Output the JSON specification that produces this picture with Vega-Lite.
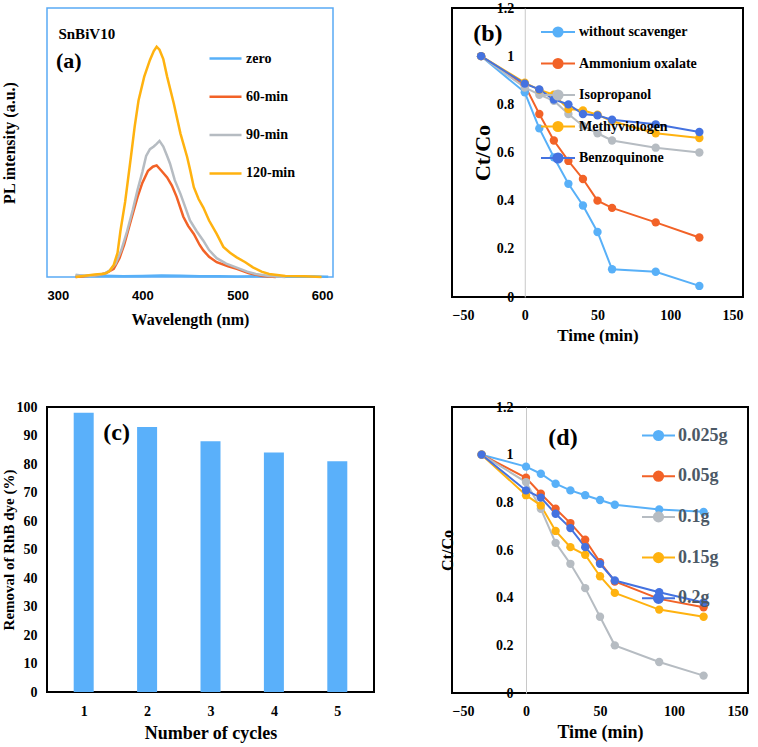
{
  "$schema": "https://vega.github.io/schema/vega-lite/v6.json",
  "background": "white",
  "padding": {"left": 0, "top": 0, "right": 0, "bottom": 0},
  "bounds": "flush",
  "columns": 2,
  "spacing": {"row": 110, "column": 78},
  "resolve": {"scale": {"color": "independent"}, "legend": {"color": "independent"}},
  "config": {
    "font": "Liberation Serif",
    "view": {"stroke": "black", "strokeWidth": 2},
    "axis": {"labelFont": "Liberation Serif", "labelFontWeight": "bold", "labelColor": "black", "titleFont": "Liberation Serif", "titleFontWeight": "bold", "titleColor": "black", "grid": false, "ticks": false, "domain": false, "labelOverlap": false},
    "legend": {"labelFont": "Liberation Serif", "labelFontWeight": "bold", "labelColor": "black", "padding": 0, "title": null}
  },
  "concat": [
    {
      "width": 286,
      "height": 269,
      "view": {"stroke": "#5aaaf5", "strokeWidth": 1.5},
      "layer": [
        {
          "data": {"values": [
            {"wl": 330, "pl": 0.6, "series_a": "zero"}, {"wl": 345, "pl": 0.4, "series_a": "zero"}, {"wl": 360, "pl": 0.5, "series_a": "zero"}, {"wl": 380, "pl": 0.3, "series_a": "zero"}, {"wl": 400, "pl": 0.4, "series_a": "zero"}, {"wl": 420, "pl": 0.6, "series_a": "zero"}, {"wl": 440, "pl": 0.5, "series_a": "zero"}, {"wl": 460, "pl": 0.3, "series_a": "zero"}, {"wl": 480, "pl": 0.3, "series_a": "zero"}, {"wl": 500, "pl": 0.2, "series_a": "zero"}, {"wl": 520, "pl": 0.3, "series_a": "zero"}, {"wl": 540, "pl": 0.2, "series_a": "zero"}, {"wl": 560, "pl": 0.2, "series_a": "zero"}, {"wl": 580, "pl": 0.2, "series_a": "zero"}, {"wl": 595, "pl": 0.1, "series_a": "zero"},
            {"wl": 330, "pl": 0, "series_a": "60-min"}, {"wl": 345, "pl": 0.5, "series_a": "60-min"}, {"wl": 355, "pl": 0.8, "series_a": "60-min"}, {"wl": 362, "pl": 1.5, "series_a": "60-min"}, {"wl": 370, "pl": 3, "series_a": "60-min"}, {"wl": 376, "pl": 7, "series_a": "60-min"}, {"wl": 381, "pl": 12, "series_a": "60-min"}, {"wl": 388, "pl": 21, "series_a": "60-min"}, {"wl": 395, "pl": 29.8, "series_a": "60-min"}, {"wl": 400, "pl": 35, "series_a": "60-min"}, {"wl": 406, "pl": 39.5, "series_a": "60-min"}, {"wl": 411, "pl": 41, "series_a": "60-min"}, {"wl": 415, "pl": 41.5, "series_a": "60-min"}, {"wl": 420, "pl": 39.5, "series_a": "60-min"}, {"wl": 426, "pl": 37, "series_a": "60-min"}, {"wl": 431, "pl": 34, "series_a": "60-min"}, {"wl": 436, "pl": 29.8, "series_a": "60-min"}, {"wl": 443, "pl": 22.4, "series_a": "60-min"}, {"wl": 448, "pl": 19, "series_a": "60-min"}, {"wl": 454, "pl": 16, "series_a": "60-min"}, {"wl": 460, "pl": 12, "series_a": "60-min"}, {"wl": 464, "pl": 9.9, "series_a": "60-min"}, {"wl": 470, "pl": 7.5, "series_a": "60-min"}, {"wl": 478, "pl": 5.5, "series_a": "60-min"}, {"wl": 490, "pl": 4, "series_a": "60-min"}, {"wl": 499, "pl": 3, "series_a": "60-min"}, {"wl": 512, "pl": 1.4, "series_a": "60-min"}, {"wl": 526, "pl": 0.4, "series_a": "60-min"}, {"wl": 540, "pl": 0, "series_a": "60-min"},
            {"wl": 330, "pl": 0.8, "series_a": "90-min"}, {"wl": 340, "pl": 0.4, "series_a": "90-min"}, {"wl": 350, "pl": 0.6, "series_a": "90-min"}, {"wl": 360, "pl": 1.2, "series_a": "90-min"}, {"wl": 366, "pl": 2.5, "series_a": "90-min"}, {"wl": 372, "pl": 5, "series_a": "90-min"}, {"wl": 378, "pl": 10, "series_a": "90-min"}, {"wl": 384, "pl": 17, "series_a": "90-min"}, {"wl": 390, "pl": 25, "series_a": "90-min"}, {"wl": 395, "pl": 32.4, "series_a": "90-min"}, {"wl": 400, "pl": 39, "series_a": "90-min"}, {"wl": 404, "pl": 45, "series_a": "90-min"}, {"wl": 408, "pl": 47.5, "series_a": "90-min"}, {"wl": 412, "pl": 48.5, "series_a": "90-min"}, {"wl": 415, "pl": 49.5, "series_a": "90-min"}, {"wl": 418, "pl": 50.6, "series_a": "90-min"}, {"wl": 422, "pl": 48.5, "series_a": "90-min"}, {"wl": 426, "pl": 45, "series_a": "90-min"}, {"wl": 429, "pl": 42.2, "series_a": "90-min"}, {"wl": 434, "pl": 36, "series_a": "90-min"}, {"wl": 440, "pl": 30.9, "series_a": "90-min"}, {"wl": 445, "pl": 26, "series_a": "90-min"}, {"wl": 450, "pl": 21, "series_a": "90-min"}, {"wl": 457, "pl": 17, "series_a": "90-min"}, {"wl": 464, "pl": 13.5, "series_a": "90-min"}, {"wl": 470, "pl": 10, "series_a": "90-min"}, {"wl": 478, "pl": 7, "series_a": "90-min"}, {"wl": 488, "pl": 5, "series_a": "90-min"}, {"wl": 499, "pl": 3.5, "series_a": "90-min"}, {"wl": 510, "pl": 2, "series_a": "90-min"}, {"wl": 519, "pl": 1.1, "series_a": "90-min"}, {"wl": 533, "pl": 0.4, "series_a": "90-min"}, {"wl": 550, "pl": 0, "series_a": "90-min"},
            {"wl": 330, "pl": 0, "series_a": "120-min"}, {"wl": 340, "pl": 0.5, "series_a": "120-min"}, {"wl": 350, "pl": 0.9, "series_a": "120-min"}, {"wl": 360, "pl": 1.2, "series_a": "120-min"}, {"wl": 365, "pl": 2, "series_a": "120-min"}, {"wl": 370, "pl": 4.5, "series_a": "120-min"}, {"wl": 374, "pl": 9, "series_a": "120-min"}, {"wl": 377, "pl": 17, "series_a": "120-min"}, {"wl": 382, "pl": 28, "series_a": "120-min"}, {"wl": 388, "pl": 44.6, "series_a": "120-min"}, {"wl": 392, "pl": 56, "series_a": "120-min"}, {"wl": 396, "pl": 65.6, "series_a": "120-min"}, {"wl": 402, "pl": 74.5, "series_a": "120-min"}, {"wl": 408, "pl": 80.7, "series_a": "120-min"}, {"wl": 412, "pl": 84, "series_a": "120-min"}, {"wl": 415, "pl": 85.6, "series_a": "120-min"}, {"wl": 418, "pl": 84.5, "series_a": "120-min"}, {"wl": 422, "pl": 81, "series_a": "120-min"}, {"wl": 426, "pl": 74.5, "series_a": "120-min"}, {"wl": 433, "pl": 64.5, "series_a": "120-min"}, {"wl": 440, "pl": 53.3, "series_a": "120-min"}, {"wl": 447, "pl": 44.6, "series_a": "120-min"}, {"wl": 450, "pl": 40, "series_a": "120-min"}, {"wl": 454, "pl": 33.4, "series_a": "120-min"}, {"wl": 459, "pl": 29, "series_a": "120-min"}, {"wl": 464, "pl": 25.8, "series_a": "120-min"}, {"wl": 470, "pl": 21, "series_a": "120-min"}, {"wl": 478, "pl": 16, "series_a": "120-min"}, {"wl": 485, "pl": 11.2, "series_a": "120-min"}, {"wl": 492, "pl": 9, "series_a": "120-min"}, {"wl": 499, "pl": 7.3, "series_a": "120-min"}, {"wl": 508, "pl": 5.5, "series_a": "120-min"}, {"wl": 516, "pl": 3.6, "series_a": "120-min"}, {"wl": 525, "pl": 2, "series_a": "120-min"}, {"wl": 533, "pl": 1.1, "series_a": "120-min"}, {"wl": 550, "pl": 0.4, "series_a": "120-min"}, {"wl": 570, "pl": 0.3, "series_a": "120-min"}, {"wl": 588, "pl": 0, "series_a": "120-min"}
          ]},
          "mark": {"type": "line", "strokeWidth": 2.5},
          "encoding": {
            "x": {"field": "wl", "type": "quantitative", "scale": {"domain": [300, 600], "nice": false, "zero": false},
                  "axis": {"values": [300, 400, 500, 600], "format": "d", "labelOverlap": false, "labelFont": "Liberation Sans", "labelFontSize": 13, "labelPadding": 12, "title": "Wavelength (nm)", "titleFont": "Liberation Serif", "titleFontSize": 16, "titlePadding": 9}},
            "y": {"field": "pl", "type": "quantitative", "scale": {"domain": [0, 100], "nice": false},
                  "axis": {"labels": false, "title": "PL intensity (a.u.)", "titleFont": "Liberation Serif", "titleFontSize": 16, "titlePadding": 30}},
            "color": {"field": "series_a", "type": "nominal",
                      "scale": {"domain": ["zero", "60-min", "90-min", "120-min"], "range": ["#58b0f8", "#f26227", "#b6bcc2", "#ffb20f"]},
                      "legend": {"orient": "none", "legendX": 161, "legendY": 33, "symbolType": "M-1,0L1,0", "symbolSize": 1024, "symbolStrokeWidth": 2.5, "labelFontSize": 14, "labelOffset": 3, "rowPadding": 13.3}}
          }
        },
        {
          "data": {"values": [{"x": 312, "y": 90.3, "t": "SnBiV10"}]},
          "mark": {"type": "text", "align": "left", "baseline": "middle", "fontSize": 15, "fontWeight": "bold"},
          "encoding": {"x": {"field": "x", "type": "quantitative"}, "y": {"field": "y", "type": "quantitative"}, "text": {"field": "t"}}
        },
        {
          "data": {"values": [{"x": 309.4, "y": 80.3, "t": "(a)"}]},
          "mark": {"type": "text", "align": "left", "baseline": "middle", "fontSize": 22, "fontWeight": "bold"},
          "encoding": {"x": {"field": "x", "type": "quantitative"}, "y": {"field": "y", "type": "quantitative"}, "text": {"field": "t"}}
        }
      ]
    },
    {
      "width": 291,
      "height": 289,
      "layer": [
        {
          "data": {"name": "b"},
          "mark": {"type": "line", "strokeWidth": 2},
          "encoding": {
            "x": {"field": "t", "type": "quantitative", "scale": {"domain": [-50, 150], "nice": false},
                  "axis": {"values": [-50, 0, 50, 100, 150], "format": "d", "labelOverlap": false, "labelFontSize": 14, "labelPadding": 11, "title": "Time (min)", "titleFont": "Liberation Serif", "titleFontSize": 17, "titlePadding": 5}},
            "y": {"field": "c", "type": "quantitative", "scale": {"domain": [0, 1.2], "nice": false},
                  "axis": {"values": [0, 0.2, 0.4, 0.6, 0.8, 1, 1.2], "format": "~g", "labelOverlap": false, "offset": -72.75, "domain": true, "domainColor": "#c8c8c8", "domainWidth": 1, "labelFontSize": 14, "labelPadding": 11, "title": "Ct/Co", "titleFont": "Liberation Serif", "titleFontSize": 22, "titlePadding": 2}},
            "color": {"field": "series_b", "type": "nominal",
                      "scale": {"domain": ["without scavenger", "Ammonium oxalate", "Isopropanol", "Methyviologen", "Benzoquinone"], "range": ["#58b0f8", "#f26227", "#b6bcc2", "#ffb20f", "#4472e0"]},
                      "legend": {"orient": "none", "legendX": 88, "legendY": 6, "symbolType": "M-1,0L1,0M0.27,0A0.27,0.27,0,1,1,-0.27,0A0.27,0.27,0,1,1,0.27,0Z", "symbolSize": 1156, "symbolStrokeWidth": 2, "labelFontSize": 14, "labelOffset": 3, "rowPadding": 4.5}}
          }
        },
        {
          "data": {"name": "b"},
          "mark": {"type": "point", "filled": true, "size": 70, "opacity": 1},
          "encoding": {
            "x": {"field": "t", "type": "quantitative"},
            "y": {"field": "c", "type": "quantitative"},
            "color": {"field": "series_b", "type": "nominal"}
          }
        },
        {
          "data": {"values": [{"x": -25.3, "y": 1.09, "t": "(b)"}]},
          "mark": {"type": "text", "align": "center", "baseline": "middle", "fontSize": 24, "fontWeight": "bold"},
          "encoding": {"x": {"field": "x", "type": "quantitative"}, "y": {"field": "y", "type": "quantitative"}, "text": {"field": "t"}}
        }
      ]
    },
    {
      "width": 327,
      "height": 285,
      "layer": [
        {
          "data": {"values": [{"cycle": 1, "removal": 98}, {"cycle": 2, "removal": 93}, {"cycle": 3, "removal": 88}, {"cycle": 4, "removal": 84}, {"cycle": 5, "removal": 81}]},
          "mark": {"type": "bar", "size": 20, "color": "#5ab0fa"},
          "encoding": {
            "x": {"field": "cycle", "type": "quantitative", "scale": {"domain": [0.5, 5.5], "nice": false, "zero": false},
                  "axis": {"values": [1, 2, 3, 4, 5], "format": "d", "labelOverlap": false, "labelFontSize": 14, "labelPadding": 12, "title": "Number  of cycles", "titleFont": "Liberation Serif", "titleFontSize": 18, "titlePadding": 6}},
            "y": {"field": "removal", "type": "quantitative", "scale": {"domain": [0, 100], "nice": false},
                  "axis": {"values": [0, 10, 20, 30, 40, 50, 60, 70, 80, 90, 100], "tickCount": 11, "format": "d", "labelOverlap": false, "labelBound": false, "labelFontSize": 14, "labelPadding": 10, "title": "Removal of RhB dye (%)", "titleFont": "Liberation Serif", "titleFontSize": 15, "titlePadding": 0}}
          }
        },
        {
          "data": {"values": [{"x": 1.52, "y": 90.9, "t": "(c)"}]},
          "mark": {"type": "text", "align": "center", "baseline": "middle", "fontSize": 24, "fontWeight": "bold"},
          "encoding": {"x": {"field": "x", "type": "quantitative"}, "y": {"field": "y", "type": "quantitative", "axis": {"values": [0, 10, 20, 30, 40, 50, 60, 70, 80, 90, 100], "tickCount": 11, "labelOverlap": false}}, "text": {"field": "t"}}
        }
      ]
    },
    {
      "width": 296,
      "height": 286,
      "layer": [
        {
          "data": {"name": "d"},
          "mark": {"type": "line", "strokeWidth": 2},
          "encoding": {
            "x": {"field": "t", "type": "quantitative", "scale": {"domain": [-50, 150], "nice": false},
                  "axis": {"values": [-50, 0, 50, 100, 150], "format": "d", "labelOverlap": false, "labelFontSize": 14, "labelPadding": 11, "title": "Time (min)", "titleFont": "Liberation Serif", "titleFontSize": 18, "titlePadding": 5}},
            "y": {"field": "c", "type": "quantitative", "scale": {"domain": [0, 1.2], "nice": false},
                  "axis": {"values": [0, 0.2, 0.4, 0.6, 0.8, 1, 1.2], "format": "~g", "labelOverlap": false, "offset": -74, "domain": true, "domainColor": "#c8c8c8", "domainWidth": 1, "labelFontSize": 14, "labelPadding": 13, "title": "Ct/Co", "titleFont": "Liberation Serif", "titleFontSize": 16, "titlePadding": 40}},
            "color": {"field": "series_d", "type": "nominal",
                      "scale": {"domain": ["0.025g", "0.05g", "0.1g", "0.15g", "0.2g"], "range": ["#58b0f8", "#f26227", "#b6bcc2", "#ffb20f", "#4472e0"]},
                      "legend": {"orient": "none", "legendX": 189, "legendY": 11, "symbolType": "M-1,0L1,0M0.28,0A0.28,0.28,0,1,1,-0.28,0A0.28,0.28,0,1,1,0.28,0Z", "symbolSize": 1089, "symbolStrokeWidth": 2, "labelFontSize": 18, "labelColor": "#4c5966", "labelOffset": 2, "rowPadding": 13.7}}
          }
        },
        {
          "data": {"name": "d"},
          "mark": {"type": "point", "filled": true, "size": 70, "opacity": 1},
          "encoding": {
            "x": {"field": "t", "type": "quantitative"},
            "y": {"field": "c", "type": "quantitative"},
            "color": {"field": "series_d", "type": "nominal"}
          }
        },
        {
          "data": {"values": [{"x": 25, "y": 1.07, "t": "(d)"}]},
          "mark": {"type": "text", "align": "center", "baseline": "middle", "fontSize": 24, "fontWeight": "bold"},
          "encoding": {"x": {"field": "x", "type": "quantitative"}, "y": {"field": "y", "type": "quantitative"}, "text": {"field": "t"}}
        }
      ]
    }
  ],
  "datasets": {
    "b": [
      {"t": -30, "c": 1, "series_b": "without scavenger"}, {"t": 0, "c": 0.85, "series_b": "without scavenger"}, {"t": 10, "c": 0.70, "series_b": "without scavenger"}, {"t": 20, "c": 0.58, "series_b": "without scavenger"}, {"t": 30, "c": 0.47, "series_b": "without scavenger"}, {"t": 40, "c": 0.38, "series_b": "without scavenger"}, {"t": 50, "c": 0.27, "series_b": "without scavenger"}, {"t": 60, "c": 0.115, "series_b": "without scavenger"}, {"t": 90, "c": 0.105, "series_b": "without scavenger"}, {"t": 120, "c": 0.046, "series_b": "without scavenger"},
      {"t": -30, "c": 1, "series_b": "Ammonium oxalate"}, {"t": 0, "c": 0.88, "series_b": "Ammonium oxalate"}, {"t": 10, "c": 0.76, "series_b": "Ammonium oxalate"}, {"t": 20, "c": 0.65, "series_b": "Ammonium oxalate"}, {"t": 30, "c": 0.565, "series_b": "Ammonium oxalate"}, {"t": 40, "c": 0.49, "series_b": "Ammonium oxalate"}, {"t": 50, "c": 0.40, "series_b": "Ammonium oxalate"}, {"t": 60, "c": 0.37, "series_b": "Ammonium oxalate"}, {"t": 90, "c": 0.31, "series_b": "Ammonium oxalate"}, {"t": 120, "c": 0.247, "series_b": "Ammonium oxalate"},
      {"t": -30, "c": 1, "series_b": "Isopropanol"}, {"t": 0, "c": 0.87, "series_b": "Isopropanol"}, {"t": 10, "c": 0.84, "series_b": "Isopropanol"}, {"t": 20, "c": 0.815, "series_b": "Isopropanol"}, {"t": 30, "c": 0.76, "series_b": "Isopropanol"}, {"t": 40, "c": 0.71, "series_b": "Isopropanol"}, {"t": 50, "c": 0.68, "series_b": "Isopropanol"}, {"t": 60, "c": 0.65, "series_b": "Isopropanol"}, {"t": 90, "c": 0.62, "series_b": "Isopropanol"}, {"t": 120, "c": 0.60, "series_b": "Isopropanol"},
      {"t": -30, "c": 1, "series_b": "Methyviologen"}, {"t": 0, "c": 0.89, "series_b": "Methyviologen"}, {"t": 10, "c": 0.86, "series_b": "Methyviologen"}, {"t": 20, "c": 0.84, "series_b": "Methyviologen"}, {"t": 30, "c": 0.78, "series_b": "Methyviologen"}, {"t": 40, "c": 0.775, "series_b": "Methyviologen"}, {"t": 50, "c": 0.757, "series_b": "Methyviologen"}, {"t": 60, "c": 0.73, "series_b": "Methyviologen"}, {"t": 90, "c": 0.68, "series_b": "Methyviologen"}, {"t": 120, "c": 0.66, "series_b": "Methyviologen"},
      {"t": -30, "c": 1, "series_b": "Benzoquinone"}, {"t": 0, "c": 0.886, "series_b": "Benzoquinone"}, {"t": 10, "c": 0.862, "series_b": "Benzoquinone"}, {"t": 20, "c": 0.82, "series_b": "Benzoquinone"}, {"t": 30, "c": 0.80, "series_b": "Benzoquinone"}, {"t": 40, "c": 0.76, "series_b": "Benzoquinone"}, {"t": 50, "c": 0.754, "series_b": "Benzoquinone"}, {"t": 60, "c": 0.736, "series_b": "Benzoquinone"}, {"t": 90, "c": 0.717, "series_b": "Benzoquinone"}, {"t": 120, "c": 0.685, "series_b": "Benzoquinone"}
    ],
    "d": [
      {"t": -30, "c": 1, "series_d": "0.025g"}, {"t": 0, "c": 0.95, "series_d": "0.025g"}, {"t": 10, "c": 0.92, "series_d": "0.025g"}, {"t": 20, "c": 0.878, "series_d": "0.025g"}, {"t": 30, "c": 0.85, "series_d": "0.025g"}, {"t": 40, "c": 0.83, "series_d": "0.025g"}, {"t": 50, "c": 0.81, "series_d": "0.025g"}, {"t": 60, "c": 0.79, "series_d": "0.025g"}, {"t": 90, "c": 0.77, "series_d": "0.025g"}, {"t": 120, "c": 0.76, "series_d": "0.025g"},
      {"t": -30, "c": 1, "series_d": "0.05g"}, {"t": 0, "c": 0.903, "series_d": "0.05g"}, {"t": 10, "c": 0.836, "series_d": "0.05g"}, {"t": 20, "c": 0.773, "series_d": "0.05g"}, {"t": 30, "c": 0.713, "series_d": "0.05g"}, {"t": 40, "c": 0.643, "series_d": "0.05g"}, {"t": 50, "c": 0.549, "series_d": "0.05g"}, {"t": 60, "c": 0.468, "series_d": "0.05g"}, {"t": 90, "c": 0.395, "series_d": "0.05g"}, {"t": 120, "c": 0.36, "series_d": "0.05g"},
      {"t": -30, "c": 1, "series_d": "0.1g"}, {"t": 0, "c": 0.885, "series_d": "0.1g"}, {"t": 10, "c": 0.773, "series_d": "0.1g"}, {"t": 20, "c": 0.63, "series_d": "0.1g"}, {"t": 30, "c": 0.542, "series_d": "0.1g"}, {"t": 40, "c": 0.44, "series_d": "0.1g"}, {"t": 50, "c": 0.32, "series_d": "0.1g"}, {"t": 60, "c": 0.2, "series_d": "0.1g"}, {"t": 90, "c": 0.13, "series_d": "0.1g"}, {"t": 120, "c": 0.073, "series_d": "0.1g"},
      {"t": -30, "c": 1, "series_d": "0.15g"}, {"t": 0, "c": 0.83, "series_d": "0.15g"}, {"t": 10, "c": 0.787, "series_d": "0.15g"}, {"t": 20, "c": 0.68, "series_d": "0.15g"}, {"t": 30, "c": 0.612, "series_d": "0.15g"}, {"t": 40, "c": 0.58, "series_d": "0.15g"}, {"t": 50, "c": 0.49, "series_d": "0.15g"}, {"t": 60, "c": 0.42, "series_d": "0.15g"}, {"t": 90, "c": 0.35, "series_d": "0.15g"}, {"t": 120, "c": 0.32, "series_d": "0.15g"},
      {"t": -30, "c": 1, "series_d": "0.2g"}, {"t": 0, "c": 0.85, "series_d": "0.2g"}, {"t": 10, "c": 0.82, "series_d": "0.2g"}, {"t": 20, "c": 0.752, "series_d": "0.2g"}, {"t": 30, "c": 0.692, "series_d": "0.2g"}, {"t": 40, "c": 0.612, "series_d": "0.2g"}, {"t": 50, "c": 0.542, "series_d": "0.2g"}, {"t": 60, "c": 0.472, "series_d": "0.2g"}, {"t": 90, "c": 0.423, "series_d": "0.2g"}, {"t": 120, "c": 0.38, "series_d": "0.2g"}
    ]
  }
}
